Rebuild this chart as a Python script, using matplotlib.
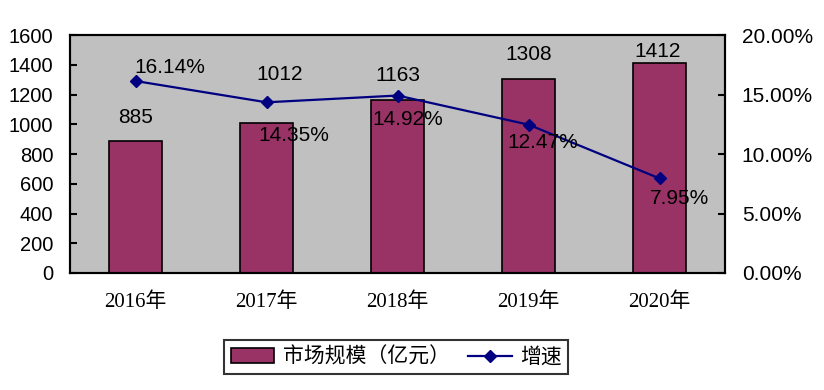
import matplotlib.pyplot as plt
from matplotlib.ticker import FuncFormatter

#-----------------Data-------------
years = ['2016年', '2017年', '2018年', '2019年', '2020年']
market = [885, 1012, 1163, 1308, 1412]
growth = [16.14, 14.35, 14.92, 12.47, 7.95]

# label placement (as in the original, hand-placed)
market_label_dx = [0.0, 0.10, 0.0, 0.0, -0.015]
market_label_y = [1045, 1334, 1328, 1469, 1489]
growth_label_dx = [0.26, 0.21, 0.08, 0.11, 0.15]
growth_label_y = [17.31, 11.60, 12.90, 11.01, 6.30]

#-----------------Figure-------------
fig = plt.figure(figsize=(8.24, 3.9), dpi=100)
ax = fig.add_axes([0.085, 0.30, 0.795, 0.61])
ax.set_facecolor('#C0C0C0')

x = range(len(years))
bars = ax.bar(x, market, width=0.4, color='#993366', edgecolor='black', linewidth=1.2,
              label='市场规模（亿元）', zorder=2)
ax.set_xlim(-0.5, len(years) - 0.5)
ax.set_ylim(0, 1600)
ax.set_yticks(range(0, 1601, 200))
ax.set_xticks(list(x))
ax.set_xticklabels(years, family=['Liberation Serif', 'Noto Sans CJK SC'], fontsize=15)
ax.tick_params(axis='x', length=0, pad=14)
ax.tick_params(axis='y', direction='in', length=5, width=1.5, labelsize=14.5, pad=12)
for lbl in ax.get_yticklabels():
    lbl.set_family('Liberation Sans')
for s in ax.spines.values():
    s.set_linewidth(1.5)

for i, v in enumerate(market):
    ax.text(i + market_label_dx[i], market_label_y[i], str(v), ha='center', va='center',
            fontsize=15, family='Liberation Sans')

ax2 = ax.twinx()
line, = ax2.plot(list(x), [g / 100 for g in growth], color='#000080', marker='D', markersize=6.5,
                 linewidth=1.6, label='增速', zorder=3)
ax2.set_ylim(0, 0.2)
ax2.set_yticks([0, 0.05, 0.10, 0.15, 0.20])
ax2.yaxis.set_major_formatter(FuncFormatter(lambda v, p: f'{v * 100:.2f}%'))
ax2.tick_params(axis='y', direction='in', length=5, width=1.5, labelsize=15, pad=12)
for lbl in ax2.get_yticklabels():
    lbl.set_family('Liberation Sans')
for s in ax2.spines.values():
    s.set_linewidth(1.5)

for i, g in enumerate(growth):
    ax2.text(i + growth_label_dx[i], growth_label_y[i] / 100, f'{g:.2f}%', ha='center',
             va='center', fontsize=15, family='Liberation Sans')

leg = fig.legend(handles=[bars, line], loc='center', bbox_to_anchor=(0.481, 0.085), ncol=2,
                 prop={'family': 'Noto Sans CJK SC', 'size': 15}, frameon=True, fancybox=False,
                 handlelength=2.1, handletextpad=0.4, columnspacing=0.9, borderpad=0.3)
leg.get_frame().set_edgecolor('black')
leg.get_frame().set_linewidth(1.5)

fig.savefig('out.png', dpi=100)
